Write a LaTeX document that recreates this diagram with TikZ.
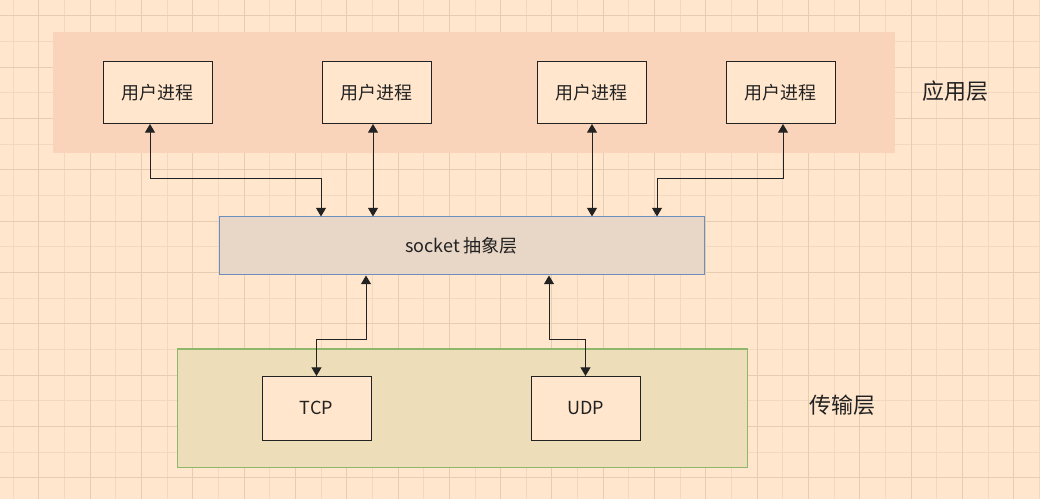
\documentclass[tikz,border=0pt]{standalone}
\usepackage{fontspec}
\setmainfont{Noto Sans CJK SC}
\usetikzlibrary{calc,positioning,arrows.meta}

\definecolor{bgc}{HTML}{FFE6CC}
\definecolor{gridc}{HTML}{F0D9C0}
\definecolor{gridmaj}{HTML}{E6CCB0}
\definecolor{appc}{HTML}{FAD4BA}
\definecolor{sockc}{HTML}{E8D6C6}
\definecolor{sockline}{HTML}{6C8EBF}
\definecolor{tranc}{HTML}{EDDDB9}
\definecolor{tranline}{HTML}{8DB86B}
\definecolor{linec}{HTML}{222222}

\tikzset{
  proc/.style={draw=linec,fill=bgc,line width=0.75pt,minimum width=81.75pt,minimum height=46.5pt,inner sep=0pt,outer sep=0pt,text=linec,font=\fontsize{13.5}{16}\selectfont},
  link/.style={draw=linec,line width=0.75pt,{Triangle[width=7.5pt,length=6.5pt]}-{Triangle[width=7.5pt,length=6.5pt]}},
  layer/.style={text=linec,font=\fontsize{16.5}{20}\selectfont}
}

\begin{document}
\begin{tikzpicture}[x=0.75pt,y=-0.75pt]
\fill[bgc] (0,0) rectangle (1040,499);
\useasboundingbox (0,0) rectangle (1040,499);
% grid
\foreach \i in {0,...,40} \draw[gridc,line width=0.75pt] ({13.3+25.65*\i},0) -- ({13.3+25.65*\i},499);
\foreach \i in {0,...,18} \draw[gridc,line width=0.75pt] (0,{16+25.65*\i}) -- (1040,{16+25.65*\i});
\foreach \i in {1,3,...,39} \draw[gridmaj,line width=0.75pt] ({13.3+25.65*\i},0) -- ({13.3+25.65*\i},499);
\foreach \i in {0,2,...,18} \draw[gridmaj,line width=0.75pt] (0,{16+25.65*\i}) -- (1040,{16+25.65*\i});

% application layer
\node [fill=appc,minimum width=631.5pt,minimum height=90.75pt,inner sep=0pt] (app) at (474,92.5) {};
\node [layer] (applabel) at (955,91) {应用层};
\node [proc] (p1) at (157.5,93) {用户进程};
\node [proc,right=82.5pt of p1] (p2) {用户进程};
\node [proc,right=79.5pt of p2] (p3) {用户进程};
\node [proc,right=60pt of p3] (p4) {用户进程};

% socket
\node [draw=sockline,fill=sockc,line width=0.75pt,minimum width=363.75pt,minimum height=43.5pt,text=linec,font=\fontsize{13.5}{16}\selectfont] (sock) at (461.5,246) {socket 抽象层};

% transport layer
\node [draw=tranline,fill=tranc,line width=0.75pt,minimum width=427.5pt,minimum height=88.5pt,inner sep=0pt] (trans) at (462,408) {};
\node [layer] (tranlabel) at (842,405) {传输层};
\node [proc,minimum height=48pt] (tcp) at (316.5,408) {TCP};
\node [proc,minimum height=48pt] (udp) at (585.5,408) {UDP};

\coordinate (in1) at ($(sock.north)+(-140.5,0)$);
\coordinate (in2) at ($(sock.north)+(-88.5,0)$);
\coordinate (in3) at ($(sock.north)+(130.5,0)$);
\coordinate (in4) at ($(sock.north)+(195.5,0)$);
\coordinate (out1) at ($(sock.south)+(-95.5,0)$);
\coordinate (out2) at ($(sock.south)+(87.5,0)$);

\draw [link] ($(p1.south)+(-7.5,0)$) -- ++(0,55) -| (in1);
\draw [link] (in2 |- p2.south) -- (in2);
\draw [link] (in3 |- p3.south) -- (in3);
\draw [link] ($(p4.south)+(2.5,0)$) -- ++(0,55) -| (in4);
\draw [link] (out1) -- ++(0,64) -| (tcp.north);
\draw [link] (out2) -- ++(0,64) -| (udp.north);
\end{tikzpicture}
\end{document}
